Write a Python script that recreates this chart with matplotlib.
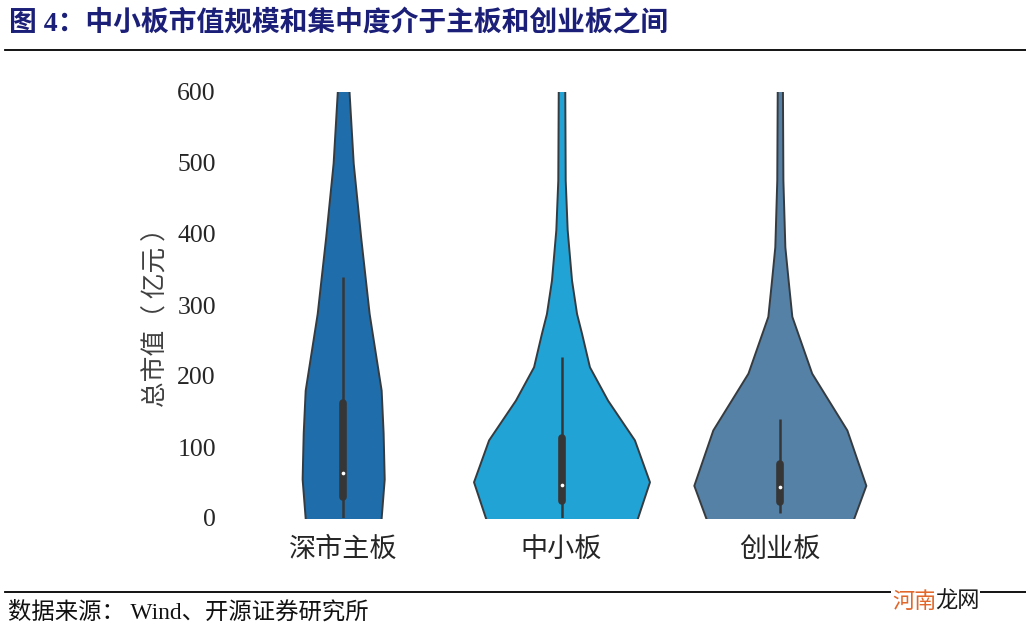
import matplotlib
matplotlib.use("Agg")
import matplotlib.pyplot as plt
from matplotlib.lines import Line2D
import numpy as np

plt.rcParams['font.family'] = ['Liberation Serif', 'Noto Sans CJK SC', 'DejaVu Sans']

# ---- data ----
categories = ['深市主板', '中小板', '创业板']
colors = ['#1f6eab', '#21a3d5', '#5581a6']

# violin outlines: value levels (亿元) and half-widths (category units)
v1_levels = [-20, 0, 55, 120, 180, 288, 396, 500, 600, 650]
v1_half = [0.169, 0.174, 0.188, 0.183, 0.174, 0.119, 0.080, 0.046, 0.027, 0.023]
v2_levels = [-20, 0, 51, 110, 166, 213, 260, 288, 335, 406, 476, 600, 650]
v2_half = [0.320, 0.348, 0.403, 0.334, 0.211, 0.128, 0.092, 0.069, 0.046, 0.026, 0.017, 0.015, 0.014]
v3_levels = [-20, 0, 46, 124, 204, 284, 335, 382, 476, 600, 650]
v3_half = [0.311, 0.339, 0.394, 0.307, 0.146, 0.055, 0.038, 0.023, 0.014, 0.012, 0.012]

# inner box stats: whisker low, q1, median, q3, whisker high
whisk_low = [0, 0, 7]
q1 = [30, 24, 23]
median = [63, 47, 43]
q3 = [162, 112, 76]
whisk_high = [340, 227, 139]

yticks = [0, 100, 200, 300, 400, 500, 600]

title = '图 4：中小板市值规模和集中度介于主板和创业板之间'
ylabel = '总市值（ 亿元 ）'
source = '数据来源： Wind、开源证券研究所'

# ---- figure ----
fig = plt.figure(figsize=(10.26, 6.34), dpi=100)
W, H = 1026, 634
ax = fig.add_axes([234 / W, 1 - 518 / H, (889 - 234) / W, (518 - 92) / H])

levels = [v1_levels, v2_levels, v3_levels]
halves = [v1_half, v2_half, v3_half]
edge = '#363b40'
for i in range(3):
    y = np.array(levels[i], dtype=float)
    w = np.array(halves[i], dtype=float)
    ax.fill_betweenx(y, i - w, i + w, facecolor=colors[i], edgecolor=edge,
                     linewidth=1.4, zorder=1)
    ax.plot([i, i], [whisk_low[i], whisk_high[i]], color='#363636', lw=1.8,
            solid_capstyle='butt', zorder=2)
    ax.plot([i, i], [q1[i], q3[i]], color='#363636', lw=5.5,
            solid_capstyle='round', zorder=3)
    ax.scatter([i], [median[i]], s=7, color='white', zorder=4, linewidths=0)

ax.set_xlim(-0.5, 2.5)
ax.set_ylim(0, 600)
ax.set_yticks(yticks)
ax.set_yticklabels([str(t) for t in yticks])
ax.set_xticks(range(3))
ax.set_xticklabels(categories)
for s in ax.spines.values():
    s.set_visible(False)
ax.tick_params(axis='y', length=0, pad=13, labelsize=18.5, labelcolor='#262626')
ax.tick_params(axis='x', length=0, pad=13, labelsize=19.5, labelcolor='#262626')
for lab in ax.get_xticklabels():
    lab.set_family(['Noto Sans CJK SC'])
    lab.set_fontweight('light')
ax.set_ylabel(ylabel, fontsize=18.5, color='#404040', family=['Noto Sans CJK SC'],
              fontweight='light')
ax.yaxis.set_label_coords((157 - 234) / (889 - 234), (518 - 311) / (518 - 92))
ax.yaxis.label.set_va('center')

# title and source
fig.text(9 / W, 1 - 24 / H, title, fontsize=20, fontweight='bold', color='#1b1f78',
         va='center', ha='left', family=['Liberation Serif', 'Noto Sans CJK SC'])
fig.add_artist(Line2D([5 / W, 1.0], [1 - 50 / H, 1 - 50 / H], color='black', lw=1.3))
fig.add_artist(Line2D([5 / W, 1.0], [1 - 592 / H, 1 - 592 / H], color='black', lw=1.3))
fig.text(8 / W, 1 - 612 / H, source, fontsize=16.8, color='#111111',
         va='center', ha='left', family=['Liberation Serif', 'Noto Sans CJK SC'])

# watermark
fig.text(892 / W, 1 - 601 / H, '河南', fontsize=16, color='#e2672a', va='center',
         ha='left', family=['Noto Sans CJK SC'],
         bbox=dict(facecolor='white', edgecolor='none', pad=0.5))
fig.text(935 / W, 1 - 601 / H, '龙网', fontsize=16, color='#1a1a1a', va='center',
         ha='left', family=['Noto Sans CJK SC'],
         bbox=dict(facecolor='white', edgecolor='none', pad=0.5))

fig.savefig('out.png', dpi=100)
